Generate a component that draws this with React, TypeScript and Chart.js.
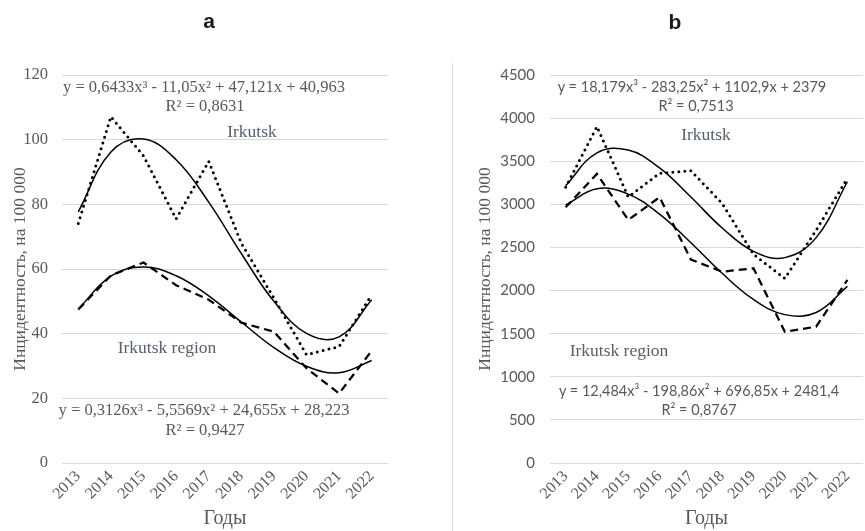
import React, { useEffect, useRef } from "react";
import { Chart, registerables } from "chart.js";

Chart.register(...registerables);

const years = ["2013", "2014", "2015", "2016", "2017", "2018", "2019", "2020", "2021", "2022"];

// Panel a
const aIrkutsk = [74.1, 107.1, 95, 75.5, 93.3, 68, 51, 33.5, 36, 52];
const aIrkutskTrend = [77.7, 96.2, 100.2, 93.8, 80.7, 64.8, 50.0, 40.1, 39.0, 50.5];
const aRegion = [47.5, 58, 62, 55, 50.5, 43.4, 40.6, 29.3, 21.5, 34.7];
const aRegionTrend = [47.6, 57.8, 60.6, 57.9, 51.7, 43.6, 35.7, 29.9, 27.9, 31.7];

// Panel b
const bIrkutsk = [3198, 3902, 3085, 3360, 3390, 3010, 2420, 2140, 2700, 3303];
const bIrkutskTrend = [3217, 3597, 3629, 3422, 3085, 2726, 2455, 2382, 2614, 3262];
const bRegion = [2966, 3353, 2819, 3082, 2360, 2219, 2258, 1523, 1581, 2123];
const bRegionTrend = [2992, 3180, 3119, 2886, 2555, 2200, 1897, 1721, 1746, 2048];

const yTitle = "Инцидентность, на 100 000";
const xTitle = "Годы";

const SERIF = "'Liberation Serif', 'Times New Roman', serif";
const SANS_B = "Lato, 'Open Sans', sans-serif";
const GRAY = "#595959";
const GRID = "#d9d9d9";

type PanelCfg = {
  irk: number[];
  irkTrend: number[];
  reg: number[];
  regTrend: number[];
  max: number;
  step: number;
  yAxisWidth: number;
  tickPad: number;
  titleOffset: number;
  padRight: number;
  yTickFont: any;
};

function makeChart(canvas: HTMLCanvasElement, p: PanelCfg) {
  return new Chart(canvas, {
    type: "line",
    data: {
      labels: years,
      datasets: [
        {
          label: "Irkutsk",
          data: p.irk,
          borderColor: "#000",
          borderWidth: 3,
          borderDash: [0, 6],
          borderCapStyle: "round",
          pointRadius: 0,
          tension: 0,
          fill: false,
        },
        {
          label: "Irkutsk trend",
          data: p.irkTrend,
          borderColor: "#000",
          borderWidth: 1.5,
          pointRadius: 0,
          tension: 0.4,
          fill: false,
        },
        {
          label: "Irkutsk region",
          data: p.reg,
          borderColor: "#000",
          borderWidth: 2.25,
          borderDash: [8, 5],
          pointRadius: 0,
          tension: 0,
          fill: false,
        },
        {
          label: "Irkutsk region trend",
          data: p.regTrend,
          borderColor: "#000",
          borderWidth: 1.5,
          pointRadius: 0,
          tension: 0.4,
          fill: false,
        },
      ],
    },
    options: {
      animation: false,
      responsive: false,
      maintainAspectRatio: false,
      layout: { padding: { left: 0, top: 75, right: p.padRight, bottom: 0 } },
      plugins: { legend: { display: false }, tooltip: { enabled: false }, title: { display: false } },
      scales: {
        x: {
          type: "category",
          offset: true,
          grid: { display: false, drawTicks: false },
          border: { display: false },
          ticks: {
            color: GRAY,
            font: { family: SERIF, size: 16 },
            minRotation: 45,
            maxRotation: 45,
            padding: 4,
            autoSkip: false,
          },
          title: {
            display: true,
            text: xTitle,
            color: GRAY,
            font: { family: SERIF, size: 20 },
            padding: { top: 0, bottom: 0 },
          },
          afterFit: (s: any) => {
            s.height = 68;
          },
        },
        y: {
          type: "linear",
          min: 0,
          max: p.max,
          grid: { color: GRID, drawTicks: false, lineWidth: 1 },
          border: { display: false },
          ticks: {
            stepSize: p.step,
            color: GRAY,
            font: p.yTickFont,
            padding: p.tickPad,
            callback: (v: any) => String(v),
          },
          title: {
            display: true,
            text: yTitle,
            color: GRAY,
            font: { family: SERIF, size: 17.5 },
            padding: { top: p.titleOffset, bottom: 0 },
          },
          afterFit: (s: any) => {
            s.width = p.yAxisWidth;
          },
        },
      },
    },
  } as any);
}

const txt = (x: number, y: number, s: React.ReactNode, font: string, size: number, color = GRAY, extra: any = {}) => (
  <div
    style={{
      position: "absolute",
      left: x,
      top: y,
      transform: "translate(-50%, -50%)",
      whiteSpace: "nowrap",
      fontFamily: font,
      fontSize: size,
      lineHeight: 1,
      color,
      ...extra,
    }}
  >
    {s}
  </div>
);

export default function App() {
  const refA = useRef<HTMLCanvasElement>(null);
  const refB = useRef<HTMLCanvasElement>(null);

  useEffect(() => {
    const ca = makeChart(refA.current!, {
      irk: aIrkutsk,
      irkTrend: aIrkutskTrend,
      reg: aRegion,
      regTrend: aRegionTrend,
      max: 120,
      step: 20,
      yAxisWidth: 62,
      tickPad: 14,
      titleOffset: 9.5,
      padRight: 52,
      yTickFont: { family: SERIF, size: 16.5 },
    });
    const cb = makeChart(refB.current!, {
      irk: bIrkutsk,
      irkTrend: bIrkutskTrend,
      reg: bRegion,
      regTrend: bRegionTrend,
      max: 4500,
      step: 500,
      yAxisWidth: 90,
      tickPad: 15,
      titleOffset: 14.5,
      padRight: 0,
      yTickFont: { family: SANS_B, size: 15 },
    });
    return () => {
      ca.destroy();
      cb.destroy();
    };
  }, []);

  const labelColor = "#56606f";

  return (
    <div style={{ position: "absolute", left: 0, top: 0, width: 865, height: 531, overflow: "hidden", background: "#fff" }}>
      <canvas ref={refA} width={440} height={531} style={{ position: "absolute", left: 0, top: 0, width: 440, height: 531 }} />
      <canvas ref={refB} width={405} height={531} style={{ position: "absolute", left: 460, top: 0, width: 405, height: 531 }} />
      <div style={{ position: "absolute", left: 452, top: 63, width: 1, height: 468, background: GRID }} />

      {txt(209, 20, "a", "'Liberation Sans Narrow', 'Arial Narrow', Arial, sans-serif", 21, "#1a1a1a", { fontWeight: "bold" })}
      {txt(675, 21, "b", "'Liberation Sans Narrow', 'Arial Narrow', Arial, sans-serif", 21, "#1a1a1a", { fontWeight: "bold" })}

      {txt(204, 87, "y = 0,6433x³ - 11,05x² + 47,121x + 40,963", SERIF, 16.5)}
      {txt(205, 106, "R² = 0,8631", SERIF, 16.5)}
      {txt(252, 132, "Irkutsk", SERIF, 17.5, labelColor)}
      {txt(167, 348, "Irkutsk region", SERIF, 17.5, labelColor)}
      {txt(204, 410, "y = 0,3126x³ - 5,5569x² + 24,655x + 28,223", SERIF, 16.5)}
      {txt(205, 430, "R² = 0,9427", SERIF, 16.5)}

      {txt(692, 87, "y = 18,179x³ - 283,25x² + 1102,9x + 2379", SANS_B, 14.5)}
      {txt(696, 106, "R² = 0,7513", SANS_B, 14.5)}
      {txt(706, 135, "Irkutsk", SERIF, 17.5, labelColor)}
      {txt(619, 351, "Irkutsk region", SERIF, 17.5, labelColor)}
      {txt(699, 391, "y = 12,484x³ - 198,86x² + 696,85x + 2481,4", SANS_B, 14.5)}
      {txt(699, 410, "R² = 0,8767", SANS_B, 14.5)}
    </div>
  );
}
